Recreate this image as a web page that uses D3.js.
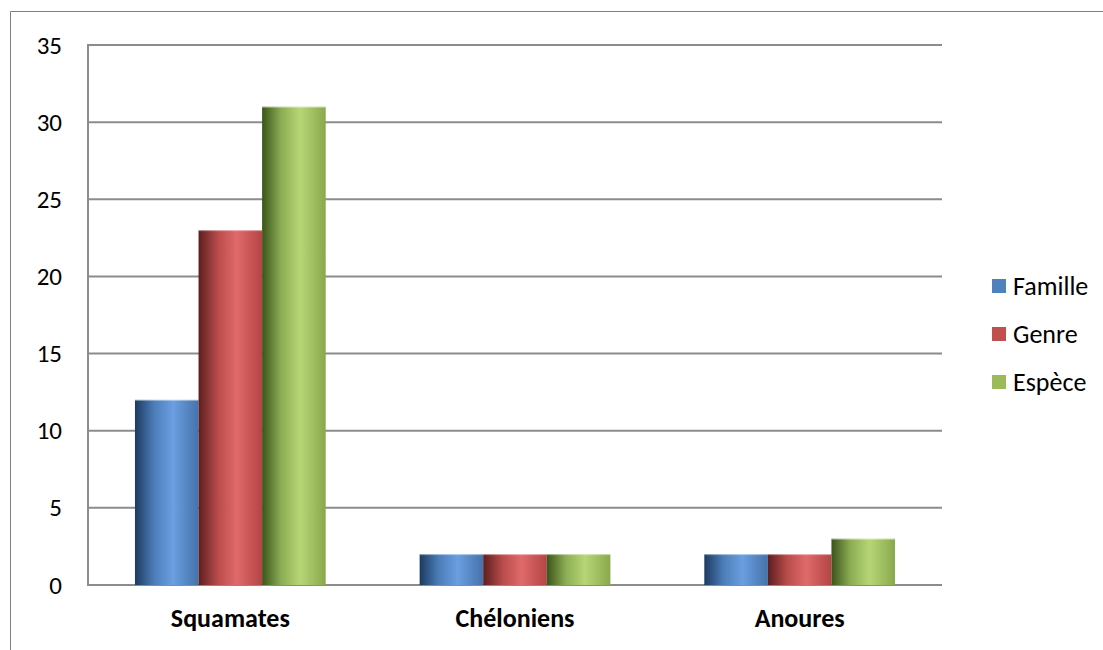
<!DOCTYPE html>
<html><head><meta charset="utf-8">
<script src="https://cdn.jsdelivr.net/npm/d3@7"></script>
<style>html,body{margin:0;padding:0;background:#fff;}svg{display:block;}</style>
</head><body>
<script>
const categories = ["Squamates", "Chéloniens", "Anoures"];
const seriesNames = ["Famille", "Genre", "Espèce"];
const famille = [12, 2, 2];
const genre = [23, 2, 2];
const espece = [31, 2, 3];
const yTicks = [0, 5, 10, 15, 20, 25, 30, 35];

const seriesValues = [famille, genre, espece];
const colors = [
  {dark:"#1d3a5f", mid:"#5b93d6", light:"#6a9fe0", end:"#4572ab", key:"#4f81bd"},
  {dark:"#5c1e1e", mid:"#d65a5a", light:"#e06a6a", end:"#b44444", key:"#c0504d"},
  {dark:"#3a541a", mid:"#a9cb67", light:"#b6d676", end:"#89a84c", key:"#9bbb59"}
];
const FONT = "Carlito, Lato, 'Open Sans', sans-serif";

const W = 1103, H = 650;
const svg = d3.select("body").append("svg").attr("width", W).attr("height", H);
const defs = svg.append("defs");
colors.forEach((c, i) => {
  const g = defs.append("linearGradient").attr("id", "g" + i)
    .attr("x1", "0%").attr("x2", "100%").attr("y1", "0%").attr("y2", "0%");
  g.append("stop").attr("offset", "0%").attr("stop-color", c.dark);
  g.append("stop").attr("offset", "30%").attr("stop-color", d3.interpolateRgb(c.dark, c.mid)(0.75));
  g.append("stop").attr("offset", "60%").attr("stop-color", c.light);
  g.append("stop").attr("offset", "100%").attr("stop-color", c.end);
});

// outer frame
svg.append("path").attr("d", `M10.5,${H} L10.5,11.5 L${W},11.5`)
  .attr("fill", "none").attr("stroke", "#7f7f7f").attr("stroke-width", 1);

const x0 = 88, x1 = 942, yTop = 45, yBot = 585;
const y = d3.scaleLinear().domain([0, 35]).range([yBot, yTop]);
const x = d3.scaleBand().domain(categories).range([x0, x1]).paddingInner(0.33).paddingOuter(0.165);
const xs = d3.scaleBand().domain(seriesNames).range([0, x.bandwidth()]);

// gridlines
svg.append("g").selectAll("line").data(yTicks).join("line")
  .attr("x1", x0).attr("x2", x1)
  .attr("y1", d => y(d)).attr("y2", d => y(d))
  .attr("stroke", "#8c8c8c").attr("stroke-width", 2);
svg.append("line").attr("x1", x0).attr("x2", x0).attr("y1", y(35) - 1).attr("y2", y(0) + 1)
  .attr("stroke", "#8c8c8c").attr("stroke-width", 2);

// y axis labels
const yAxis = d3.axisLeft(y).tickValues(yTicks).tickSize(0).tickPadding(26);
const ga = svg.append("g").attr("transform", `translate(${x0},0)`).call(yAxis);
ga.select(".domain").remove();
ga.selectAll("text").attr("font-family", FONT).attr("font-size", 25).attr("fill", "#000");

// bars
seriesValues.forEach((vals, si) => {
  svg.append("g").selectAll("rect").data(vals).join("rect")
    .attr("x", (d, i) => x(categories[i]) + xs(seriesNames[si]))
    .attr("width", xs.bandwidth())
    .attr("y", d => y(d))
    .attr("height", d => y(0) - y(d))
    .attr("fill", `url(#g${si})`);
  svg.append("g").selectAll("line").data(vals).join("line")
    .attr("x1", (d, i) => x(categories[i]) + xs(seriesNames[si]))
    .attr("x2", (d, i) => x(categories[i]) + xs(seriesNames[si]) + xs.bandwidth())
    .attr("y1", d => y(d) + 0.5).attr("y2", d => y(d) + 0.5)
    .attr("stroke", "#ffffff").attr("stroke-opacity", 0.45).attr("stroke-width", 1);
});

// x labels
const xAxis = d3.axisBottom(x).tickSize(0).tickPadding(24);
const gx = svg.append("g").attr("transform", `translate(0,${yBot})`).call(xAxis);
gx.select(".domain").remove();
gx.selectAll("text").attr("font-family", FONT).attr("font-size", 26)
  .attr("font-weight", "bold").attr("fill", "#000");

// legend
const legY = [286, 334, 382];
const leg = svg.append("g");
seriesNames.forEach((n, i) => {
  leg.append("rect").attr("x", 992).attr("y", legY[i] - 7).attr("width", 14).attr("height", 14)
    .attr("fill", colors[i].key);
  leg.append("text").attr("x", 1013).attr("y", legY[i]).attr("dy", "0.35em")
    .attr("font-family", FONT).attr("font-size", 26).attr("fill", "#000")
    .text(n);
});
</script>
</body></html>
